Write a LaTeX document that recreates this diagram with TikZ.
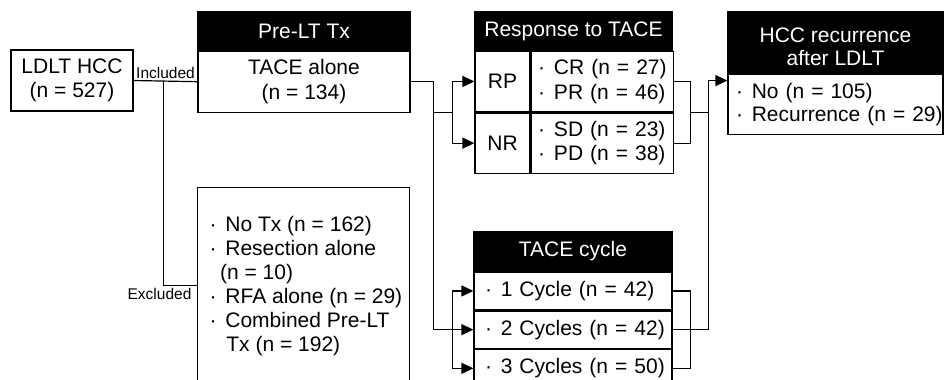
\documentclass[tikz,border=0pt]{standalone}
\usepackage{fontspec}
\setmainfont{Liberation Sans}
\usetikzlibrary{arrows.meta,calc}

\newcommand{\dotitem}[1]{\mbox{·\hspace{0.42em}#1}}

\begin{document}
\begin{tikzpicture}[x=1pt, y=-1pt, line width=1.2pt,
    font=\fontsize{21}{24.5}\selectfont,
    box/.style={draw, rectangle, inner sep=0pt, align=center},
    head/.style={box, fill=black, text=white},
    list/.style={box, align=left},
    tag/.style={font=\fontsize{15.5}{18}\selectfont, inner sep=2pt},
    arr/.style={-{Triangle[length=12pt,width=11pt]}}]
\useasboundingbox (0,0) rectangle (945,380);
\clip (0,0) rectangle (945,380);

% cohort and pre-LT treatment
\node[box, minimum width=122pt, minimum height=61pt] (ldlt) at (72,80.5) {LDLT HCC\\(n = 527)};
\node[head, minimum width=212pt, minimum height=38pt] (preHead) at (304,31) {Pre-LT Tx};
\node[box, minimum width=212pt, minimum height=61pt, anchor=north] (preBody) at (preHead.south) {TACE alone\\(n = 134)};
\node[box, minimum width=212pt, minimum height=196pt, anchor=north west] (excl) at (197,187) {};
\node[anchor=north west, align=left, inner sep=0pt, font=\fontsize{21}{24}\selectfont] (exclList) at ($(excl.north west)+(12,29)$)
  {\dotitem{No Tx (n = 162)}\\
   \dotitem{Resection alone}\\
   \hspace{0.5em}(n = 10)\\
   \dotitem{RFA alone (n = 29)}\\
   \dotitem{Combined Pre-LT}\\
   \hspace{0.8em}Tx (n = 192)};

% response to TACE
\node[head, minimum width=197pt, minimum height=38pt] (respHead) at (573.5,31) {Response to TACE};
\node[box, minimum width=55pt, minimum height=60.5pt, anchor=north west] (rp) at (respHead.south west) {RP};
\node[list, text width=128pt, inner xsep=7pt, minimum height=60.5pt, anchor=north west] (rpList) at (rp.north east)
  {\dotitem{CR (n = 27)}\\\dotitem{PR (n = 46)}};
\node[box, minimum width=55pt, minimum height=60.5pt, anchor=north west] (nr) at (rp.south west) {NR};
\node[list, text width=128pt, inner xsep=7pt, minimum height=60.5pt, anchor=north west] (nrList) at (nr.north east)
  {\dotitem{SD (n = 23)}\\\dotitem{PD (n = 38)}};

% TACE cycles
\node[head, minimum width=198pt, minimum height=39pt] (cycHead) at (573,251.5) {TACE cycle};
\node[list, text width=176pt, inner xsep=11pt, minimum height=37.5pt, anchor=north] (cyc1) at (cycHead.south) {\dotitem{1 Cycle (n = 42)}};
\node[list, text width=176pt, inner xsep=11pt, minimum height=37.5pt, anchor=north] (cyc2) at (cyc1.south) {\dotitem{2 Cycles (n = 42)}};
\node[list, text width=176pt, inner xsep=11pt, minimum height=37.5pt, anchor=north] (cyc3) at (cyc2.south) {\dotitem{3 Cycles (n = 50)}};

% recurrence
\node[head, minimum width=215pt, minimum height=61pt] (recHead) at (835.5,42.5) {};
\node[text=white, align=center, inner sep=0pt, font=\fontsize{21}{23}\selectfont] (recTitle) at ($(recHead)+(0,4.5)$) {HCC recurrence\\after LDLT};
\node[list, text width=199pt, inner xsep=8pt, minimum height=60pt, anchor=north, font=\fontsize{21}{23}\selectfont] (recBody) at (recHead.south)
  {\dotitem{No (n = 105)}\\\dotitem{Recurrence (n = 29)}};

% included / excluded split
\coordinate (split) at ($(ldlt.east)+(30,0)$);
\draw (ldlt.east) -- node[tag, above] (incl) {Included} (preBody.west);
\draw (split) |- (excl.west);
\node[tag, anchor=north east, xshift=-3pt] (exclTag) at (excl.west) {Excluded};

% TACE alone into response and cycles
\coordinate (preOut) at ($(preBody.east)+(23,0)$);
\coordinate (respIn) at ($(rp.south west)+(-22,0)$);
\coordinate (cycIn) at (respIn |- cyc2.west);
\draw[arr] (preBody.east) -- (preOut) |- (cyc2.west);
\draw (preOut |- respIn) -- (respIn);
\draw[arr] (respIn) |- (rp.west);
\draw[arr] (respIn) |- (nr.west);
\draw[arr] (cycIn) |- (cyc1.west);
\draw[arr] (cycIn) |- (cyc3.west);

% everything into recurrence
\coordinate (respOut) at ($(rpList.south east)+(17,0)$);
\coordinate (cycOut) at (respOut |- cyc2.east);
\coordinate (recJoin) at ($(respOut)+(18,0)$);
\draw (rpList.east) -| (respOut) |- (nrList.east);
\draw (cyc1.east) -| (cycOut) |- (cyc3.east);
\draw (cyc2.east) -- (cycOut);
\draw (respOut) -- (recJoin);
\draw[arr] (cycOut) -| (recJoin) |- ($(recBody.north west)+(0,7)$);
\end{tikzpicture}
\end{document}
